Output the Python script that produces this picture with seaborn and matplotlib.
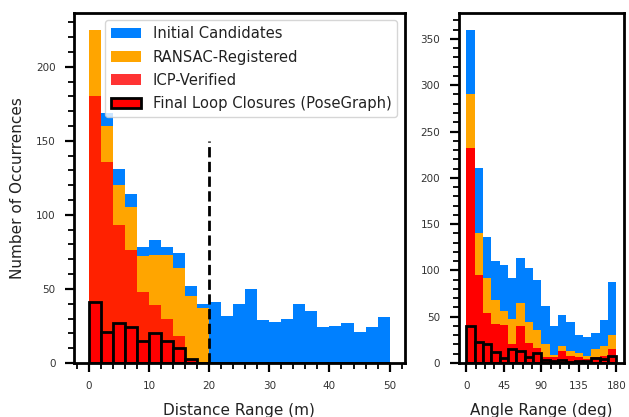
import numpy as np
import pandas as pd
import matplotlib
matplotlib.use("Agg")
import matplotlib.pyplot as plt
import seaborn as sns
from matplotlib.patches import Patch
from matplotlib.ticker import AutoMinorLocator, MultipleLocator

# ---------------- data ----------------
dist_edges = list(range(0, 52, 2))  # 25 bins of 2 m
dist_initial = [225, 169, 131, 114, 78, 83, 78, 74, 52, 40, 41, 32, 40, 50, 29,
                28, 30, 40, 35, 24, 25, 27, 21, 24, 31]
dist_ransac = [225, 160, 120, 105, 72, 73, 73, 64, 45, 37, 0, 0, 0, 0, 0,
               0, 0, 0, 0, 0, 0, 0, 0, 0, 0]
dist_icp = [180, 136, 93, 76, 48, 39, 30, 18, 3, 0, 0, 0, 0, 0, 0,
            0, 0, 0, 0, 0, 0, 0, 0, 0, 0]
dist_final = [41, 21, 27, 24, 15, 20, 15, 10, 3, 0, 0, 0, 0, 0, 0,
              0, 0, 0, 0, 0, 0, 0, 0, 0, 0]
dist_threshold = 20
dist_threshold_height = 150

ang_edges = list(range(0, 190, 10))  # 18 bins of 10 deg
ang_initial = [360, 211, 136, 110, 106, 92, 113, 103, 90, 62, 40, 52, 44, 30, 28, 32, 46, 88]
ang_ransac = [291, 140, 92, 68, 56, 47, 65, 44, 36, 21, 9, 18, 13, 11, 8, 15, 18, 30]
ang_icp = [232, 95, 54, 42, 41, 20, 40, 22, 16, 7, 6, 13, 8, 6, 4, 6, 8, 15]
ang_final = [40, 23, 21, 12, 5, 15, 13, 7, 11, 3, 2, 3, 1, 2, 2, 5, 4, 8]

labels = ["Initial Candidates", "RANSAC-Registered", "ICP-Verified",
          "Final Loop Closures (PoseGraph)"]

BLUE = "#0080ff"
ORANGE = "#ffa500"
RED = "#ff0000"

# ---------------- style ----------------
sns.set_theme(style="ticks")
plt.rcParams["font.family"] = ["DejaVu Sans"]
plt.rcParams["text.color"] = "#222222"
plt.rcParams["axes.labelcolor"] = "#222222"

fig = plt.figure(figsize=(6.29, 4.17), dpi=100)
gs = fig.add_gridspec(1, 2, width_ratios=[2, 1], left=0.1176, right=0.992,
                      bottom=0.1295, top=0.9688, wspace=0.218)
ax1 = fig.add_subplot(gs[0, 0])
ax2 = fig.add_subplot(gs[0, 1])


def draw(ax, edges, initial, ransac, icp, final, icp_alpha):
    e = np.asarray(edges, dtype=float)
    centers = (e[:-1] + e[1:]) / 2
    df = pd.DataFrame({"center": centers, "initial": initial, "ransac": ransac,
                       "icp": icp, "final": final})
    for col_name, col, a in [("initial", BLUE, 1.0), ("ransac", ORANGE, 1.0),
                             ("icp", RED, icp_alpha)]:
        sns.histplot(data=df, x="center", weights=col_name, bins=list(edges),
                     element="step", fill=True, color=col, alpha=a,
                     linewidth=0, ax=ax)
    sns.histplot(data=df, x="center", weights="final", bins=list(edges),
                 element="bars", fill=True, color=RED, alpha=1.0,
                 edgecolor="black", linewidth=2, ax=ax)


draw(ax1, dist_edges, dist_initial, dist_ransac, dist_icp, dist_final, 0.8)
draw(ax2, ang_edges, ang_initial, ang_ransac, ang_icp, ang_final, 1.0)

ax1.vlines(dist_threshold, 0, dist_threshold_height, colors="black",
           linestyles="--", linewidth=2, zorder=5)

ax1.set_xlim(-2.5, 52.5)
ax1.set_ylim(0, max(dist_initial) * 1.05)
ax2.set_xlim(-9, 189)
ax2.set_ylim(0, max(ang_initial) * 1.05)

ax1.xaxis.set_major_locator(MultipleLocator(10))
ax1.yaxis.set_major_locator(MultipleLocator(50))
ax2.set_xticks([0, 45, 90, 135, 180])
ax2.yaxis.set_major_locator(MultipleLocator(50))

for ax in (ax1, ax2):
    ax.xaxis.set_minor_locator(AutoMinorLocator())
    ax.yaxis.set_minor_locator(AutoMinorLocator())
    for s in ax.spines.values():
        s.set_visible(True)
        s.set_linewidth(2)
        s.set_color("black")
    ax.tick_params(which="major", length=6.3, width=1.6, color="black",
                   labelsize=7.5, labelcolor="#333333", pad=7)
    ax.tick_params(which="minor", length=4, width=1.3, color="black")
    ax.set_ylabel("")

ax1.set_xlabel("Distance Range (m)", fontsize=11, labelpad=8)
ax1.set_ylabel("Number of Occurrences", fontsize=11, labelpad=8)
ax2.set_xlabel("Angle Range (deg)", fontsize=11, labelpad=8)

handles = [Patch(facecolor=BLUE, edgecolor="none"),
           Patch(facecolor=ORANGE, edgecolor="none"),
           Patch(facecolor=RED, edgecolor="none", alpha=0.8),
           Patch(facecolor=RED, edgecolor="black", linewidth=2)]
ax1.legend(handles, labels, loc="upper right", fontsize=10.6, frameon=True,
           framealpha=0.8, edgecolor="#cccccc", fancybox=True,
           labelspacing=0.56)

fig.savefig("out.png", dpi=100)
